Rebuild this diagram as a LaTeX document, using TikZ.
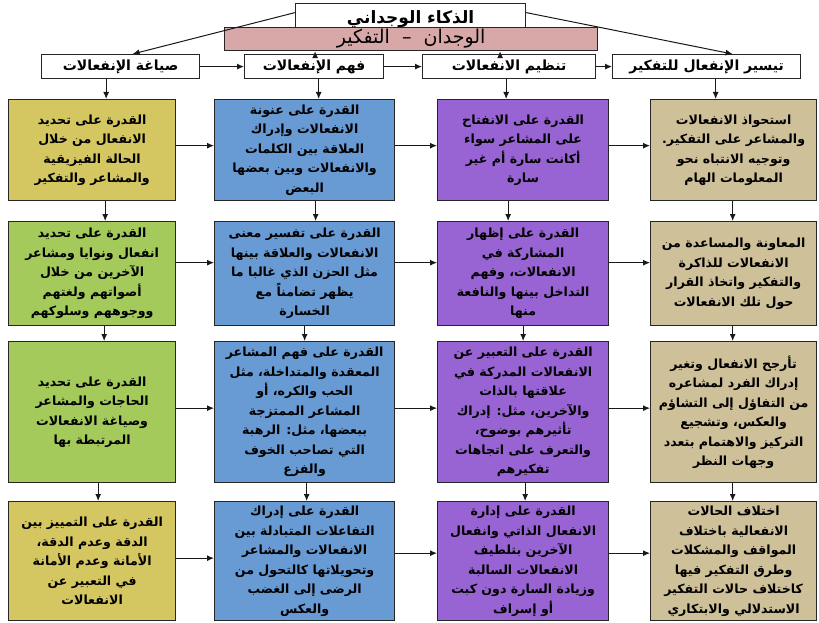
\documentclass[tikz,border=0pt]{standalone}
\usepackage{fontspec}
\newfontfamily\arabicfont[Script=Arabic]{DejaVu Sans}
\TeXXeTstate=1
\usetikzlibrary{arrows.meta}

\definecolor{ochre}{RGB}{212,198,96}
\definecolor{leaf}{RGB}{164,202,92}
\definecolor{sky}{RGB}{104,154,212}
\definecolor{grape}{RGB}{152,100,212}
\definecolor{sand}{RGB}{206,192,152}
\definecolor{rose}{RGB}{216,168,168}

% one right-to-left line of Arabic
\newcommand\arline[1]{\beginR #1\endR}

\tikzset{
  card/.style={draw=black!85, line width=1.3pt, anchor=north west, inner sep=0pt,
    align=center, font=\arabicfont\bfseries\fontsize{12.6}{19.5}\selectfont},
  hdr/.style={draw=black!85, line width=1.2pt, fill=white, anchor=north west,
    inner sep=0pt, minimum height=24pt,
    font=\arabicfont\bfseries\fontsize{14}{15}\selectfont},
  arr/.style={-{Latex[length=7pt,width=6pt]}, line width=1pt, draw=black!90},
  r1/.style={minimum height=101pt},
  r2/.style={minimum height=104pt},
  r3/.style={minimum height=141pt},
  r4/.style={minimum height=119pt},
  c1/.style={minimum width=167pt},
  c2/.style={minimum width=180pt},
  c3/.style={minimum width=171pt},
  c4/.style={minimum width=166pt},
}

\begin{document}
\begin{tikzpicture}[x=1pt,y=-1pt]
\useasboundingbox[fill=white] (0,0) rectangle (819,623);

% title and the pink band over it
\node[hdr, minimum width=230pt, minimum height=30pt, text depth=1pt,
      font=\arabicfont\bfseries\fontsize{17}{18}\selectfont] (title) at (295,3) {\raisebox{3pt}{\arline{الذكاء الوجداني}}};
\node[draw=black!85, line width=1.2pt, fill=rose, anchor=north west, inner sep=0pt,
      minimum width=373pt, minimum height=23pt,
      font=\arabicfont\fontsize{19}{20}\selectfont] (band) at (224,27) {\arline{الوجدان \ – \ التفكير}};

% the four branch headers
\node[hdr, minimum width=158pt] (h1) at (41,54) {\arline{صياغة الإنفعالات}};
\node[hdr, minimum width=139pt] (h2) at (244,54) {\arline{فهم الإنفعالات}};
\node[hdr, minimum width=173pt] (h3) at (422,54) {\arline{تنظيم الانفعالات}};
\node[hdr, minimum width=188pt] (h4) at (612,54) {\arline{تيسير الإنفعال للتفكير}};

% column 1
\node[card, c1, r1, fill=ochre] (a1) at (8,99) {\arline{القدرة على تحديد}\\\arline{الانفعال من خلال}\\\arline{الحالة الفيزيقية}\\\arline{والمشاعر والتفكير}};
\node[card, c1, r2, fill=leaf] (a2) at (8,221) {\arline{القدرة على تحديد}\\\arline{انفعال ونوايا ومشاعر}\\\arline{الآخرين من خلال}\\\arline{أصواتهم ولغتهم}\\\arline{ووجوههم وسلوكهم}};
\node[card, c1, r3, fill=leaf] (a3) at (8,341) {\arline{القدرة على تحديد}\\\arline{الحاجات والمشاعر}\\\arline{وصياغة الانفعالات}\\\arline{المرتبطة بها}};
\node[card, c1, r4, fill=ochre] (a4) at (8,501) {\arline{القدرة على التمييز بين}\\\arline{الدقة وعدم الدقة،}\\\arline{الأمانة وعدم الأمانة}\\\arline{في التعبير عن}\\\arline{الانفعالات}};

% column 2
\node[card, c2, r1, fill=sky] (b1) at (214,99) {\arline{القدرة على عنونة}\\\arline{الانفعالات وإدراك}\\\arline{العلاقة بين الكلمات}\\\arline{والانفعالات وبين بعضها}\\\arline{البعض}};
\node[card, c2, r2, fill=sky] (b2) at (214,221) {\arline{القدرة على تفسير معنى}\\\arline{الانفعالات والعلاقة بينها}\\\arline{مثل الحزن الذي غالبا ما}\\\arline{يظهر تضامناً مع}\\\arline{الخسارة}};
\node[card, c2, r3, fill=sky] (b3) at (214,341) {\arline{القدرة على فهم المشاعر}\\\arline{المعقدة والمتداخلة، مثل}\\\arline{الحب والكره، أو}\\\arline{المشاعر الممتزجة}\\\arline{ببعضها، مثل: الرهبة}\\\arline{التي تصاحب الخوف}\\\arline{والفزع}};
\node[card, c2, r4, fill=sky] (b4) at (214,501) {\arline{القدرة على إدراك}\\\arline{التفاعلات المتبادلة بين}\\\arline{الانفعالات والمشاعر}\\\arline{وتحويلاتها كالتحول من}\\\arline{الرضى إلى الغضب}\\\arline{والعكس}};

% column 3
\node[card, c3, r1, fill=grape] (d1) at (437,99) {\arline{القدرة على الانفتاح}\\\arline{على المشاعر سواء}\\\arline{أكانت سارة أم غير}\\\arline{سارة}};
\node[card, c3, r2, fill=grape] (d2) at (437,221) {\arline{القدرة على إظهار}\\\arline{المشاركة في}\\\arline{الانفعالات، وفهم}\\\arline{التداخل بينها والنافعة}\\\arline{منها}};
\node[card, c3, r3, fill=grape] (d3) at (437,341) {\arline{القدرة على التعبير عن}\\\arline{الانفعالات المدركة في}\\\arline{علاقتها بالذات}\\\arline{والآخرين، مثل: إدراك}\\\arline{تأثيرهم بوضوح،}\\\arline{والتعرف على اتجاهات}\\\arline{تفكيرهم}};
\node[card, c3, r4, fill=grape] (d4) at (437,501) {\arline{القدرة على إدارة}\\\arline{الانفعال الذاتي وانفعال}\\\arline{الآخرين بتلطيف}\\\arline{الانفعالات السالبة}\\\arline{وزيادة السارة دون كبت}\\\arline{أو إسراف}};

% column 4
\node[card, c4, r1, fill=sand] (e1) at (650,99) {\arline{استحواذ الانفعالات}\\\arline{والمشاعر على التفكير.}\\\arline{وتوجيه الانتباه نحو}\\\arline{المعلومات الهام}};
\node[card, c4, r2, fill=sand] (e2) at (650,221) {\arline{المعاونة والمساعدة من}\\\arline{الانفعالات للذاكرة}\\\arline{والتفكير واتخاذ القرار}\\\arline{حول تلك الانفعالات}};
\node[card, c4, r3, fill=sand] (e3) at (650,341) {\arline{تأرجح الانفعال وتغير}\\\arline{إدراك الفرد لمشاعره}\\\arline{من التفاؤل إلى التشاؤم}\\\arline{والعكس، وتشجيع}\\\arline{التركيز والاهتمام بتعدد}\\\arline{وجهات النظر}};
\node[card, c4, r4, fill=sand] (e4) at (650,501) {\arline{اختلاف الحالات}\\\arline{الانفعالية باختلاف}\\\arline{المواقف والمشكلات}\\\arline{وطرق التفكير فيها}\\\arline{كاختلاف حالات التفكير}\\\arline{الاستدلالي والابتكاري}};

% title to the outer headers, inner headers up to the band
\draw[arr] ([yshift=6pt]title.west) -- ([xshift=12pt]h1.north);
\draw[arr] ([yshift=6pt]title.east) -- ([xshift=26pt]h4.north);
\draw[arr] ([xshift=1pt]h2.north) -- ([xshift=1pt]h2.north |- band.south);
\draw[arr] ([xshift=-9pt]h3.north) -- ([xshift=-9pt]h3.north |- band.south);

% header chain
\draw[arr] (h1.east) -- (h2.west);
\draw[arr] (h2.east) -- (h3.west);
\draw[arr] (h3.east) -- (h4.west);

% headers down into the first row
\draw[arr] ([xshift=14pt]a1.north |- h1.south) -- ([xshift=14pt]a1.north);
\draw[arr] ([xshift=14pt]b1.north |- h2.south) -- ([xshift=14pt]b1.north);
\draw[arr] ([xshift=-17pt]d1.north |- h3.south) -- ([xshift=-17pt]d1.north);
\draw[arr] ([xshift=-18pt]e1.north |- h4.south) -- ([xshift=-18pt]e1.north);

% down each column
\draw[arr] ([xshift=13pt]a1.south) -- ([xshift=13pt]a2.north);
\draw[arr] ([xshift=12pt]a2.south) -- ([xshift=12pt]a3.north);
\draw[arr] ([xshift=6pt]a3.south) -- ([xshift=6pt]a4.north);
\draw[arr] ([xshift=11pt]b1.south) -- ([xshift=11pt]b2.north);
\draw[arr] ([xshift=0pt]b2.south) -- ([xshift=0pt]b3.north);
\draw[arr] ([xshift=2pt]b3.south) -- ([xshift=2pt]b4.north);
\draw[arr] ([xshift=-15pt]d1.south) -- ([xshift=-15pt]d2.north);
\draw[arr] ([xshift=0pt]d2.south) -- ([xshift=0pt]d3.north);
\draw[arr] ([xshift=2pt]d3.south) -- ([xshift=2pt]d4.north);
\draw[arr] ([xshift=-1pt]e1.south) -- ([xshift=-1pt]e2.north);
\draw[arr] ([xshift=-1pt]e2.south) -- ([xshift=-1pt]e3.north);
\draw[arr] ([xshift=-1pt]e3.south) -- ([xshift=-1pt]e4.north);

% across each row
\foreach \p/\q/\s in {a1/b1/4.5, b1/d1/4.5, d1/e1/4.5,
                      a2/b2/11, b2/d2/11, d2/e2/11,
                      a3/b3/4, b3/d3/4, d3/e3/4,
                      a4/b4/3, b4/d4/8, d4/e4/8}
  \draw[arr] ([yshift=\s pt]\p.east) -- ([yshift=\s pt]\q.west);
\end{tikzpicture}
\end{document}
